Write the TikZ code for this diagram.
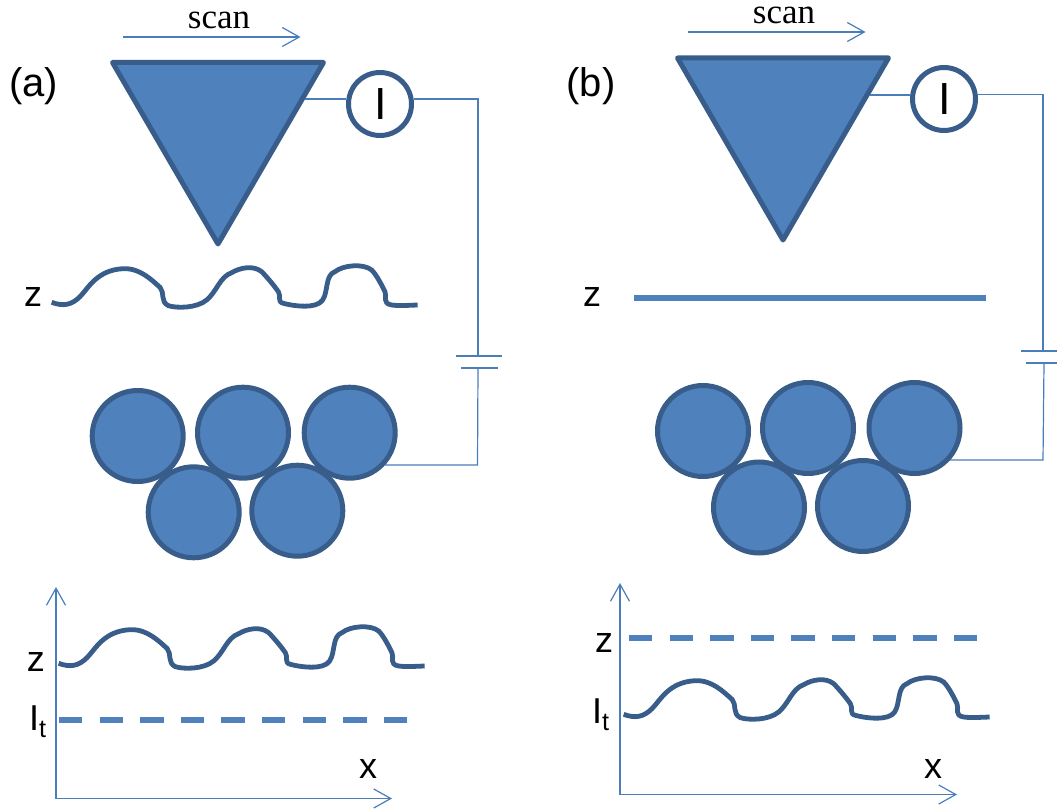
\documentclass[tikz,border=0pt]{standalone}
\usepackage{fontspec}
\setmainfont{Liberation Serif}
\newfontfamily\lab{Liberation Sans}
\usetikzlibrary{arrows.meta}
\definecolor{fillb}{RGB}{79,129,189}
\definecolor{edgeb}{RGB}{56,93,138}
\definecolor{lineb}{RGB}{74,126,187}
\tikzset{
  wire/.style={draw=lineb,line width=1.2pt},
  arrowline/.style={wire,-{Straight Barb[length=17pt,width=19pt,line width=1.2pt]}},
  tip/.style={fill=fillb,draw=edgeb,line width=5pt,line join=round},
  atom/.style={circle,fill=fillb,draw=edgeb,line width=5pt,minimum size=91pt,inner sep=0pt},
  meter/.style={circle,fill=white,draw=edgeb,line width=5pt,minimum size=63pt,inner sep=0pt,font=\lab\fontsize{45}{45}\selectfont},
  lbl/.style={inner sep=0pt,font=\lab\fontsize{36}{40}\selectfont,text=black},
  panel/.style={inner sep=0pt,font=\lab\fontsize{40}{44}\selectfont,text=black},
  scanlbl/.style={inner sep=0pt,font=\fontsize{35}{38}\selectfont,text=black},
  wave/.pic={\draw[edgeb,line width=4.8pt,line join=round,scale=0.33333]
    (155,907) .. controls (190,920) and (215,915) .. (240,890)
    .. controls (265,865) and (290,810) .. (370,806)
    .. controls (420,804) and (455,840) .. (480,862)
    .. controls (495,878) and (480,905) .. (505,917)
    .. controls (530,925) and (590,925) .. (620,900)
    .. controls (650,875) and (660,830) .. (695,818)
    .. controls (720,803) and (760,795) .. (785,815)
    .. controls (800,830) and (825,860) .. (835,875)
    .. controls (845,890) and (830,905) .. (850,910)
    .. controls (880,918) and (950,928) .. (968,900)
    .. controls (985,875) and (975,825) .. (1005,815)
    .. controls (1030,795) and (1090,790) .. (1115,810)
    .. controls (1130,825) and (1145,855) .. (1155,875)
    .. controls (1162,890) and (1145,910) .. (1175,915)
    .. controls (1195,918) and (1225,916) .. (1253,915);},
  flat/.style={draw=fillb,line width=5.5pt},
  dashflat/.style={draw=fillb,line width=6pt,dash pattern=on 23.3pt off 17.3pt}
}
\begin{document}
\begin{tikzpicture}[x=1pt,y=-1pt]
\useasboundingbox (0,0) rectangle (1057,810);
% panel a
\node[panel] (la) at (33.5,86) {(a)};
\node[scanlbl] (sa) at (219,20) {scan};
\coordinate (sa1) at (123,37); \coordinate (sa2) at (300.5,37);
\draw[arrowline] (sa1) -- (sa2);
\coordinate (ta) at (305,99);
\draw[tip] (112.5,62.5) -- (323.5,62.5) -- (218,244) -- cycle;
\node[meter] (ma) at (380,104) {\kern1.5pt I};
\coordinate (ca1) at (478,99); \coordinate (pa1) at (478,356);
\coordinate (pa2) at (478,368); \coordinate (ca2) at (477.5,465);
\coordinate (ea) at (385,465);
\draw[wire] (ta) -- (ma.west |- ta);
\draw[wire] (ma.east |- ca1) -- (ca1) -- (pa1);
\draw[wire] (456,356) -- (501.5,356);
\draw[wire] (461,368) -- (497.5,368);
\draw[wire] (pa2) -- (ca2) -- (ea);
\node[lbl] (za) at (33,297) {z};
\pic at (0,0) {wave};
\node[atom] (a1) at (137.7,436) {};
\node[atom] (a2) at (243,432.7) {};
\node[atom] (a3) at (349.7,432.7) {};
\node[atom] (a4) at (193.7,512.3) {};
\node[atom] (a5) at (297.3,510.7) {};
% graph a
\coordinate (oa) at (56,798.5); \coordinate (ya) at (56,587); \coordinate (xa) at (392,798.5);
\draw[arrowline] (oa) -- (ya);
\draw[arrowline] (oa) -- (xa);
\pic at (7,361) {wave};
\draw[dashflat] (59,720) -- (407,720);
\node[lbl] (gza) at (36,662) {z};
\node[lbl,anchor=base west] (gia) at (29,730) {I\textsubscript{t}};
\node[lbl] (gxa) at (368,769) {x};
% panel b
\node[panel] (lb) at (591,86) {(b)};
\node[scanlbl] (sb) at (784,15.5) {scan};
\coordinate (sb1) at (688,32); \coordinate (sb2) at (865.5,32);
\draw[arrowline] (sb1) -- (sb2);
\coordinate (tb) at (870,95);
\draw[tip] (677.5,58) -- (888.5,58) -- (783,240) -- cycle;
\node[meter] (mb) at (944,99) {\kern1.5pt I};
\coordinate (cb1) at (1043,94.5); \coordinate (pb1) at (1043,351);
\coordinate (pb2) at (1044,363); \coordinate (cb2) at (1043,460);
\coordinate (eb) at (950,460);
\draw[wire] (tb) -- (mb.west |- tb);
\draw[wire] (mb.east |- cb1) -- (cb1) -- (pb1);
\draw[wire] (1021,351) -- (1057,351);
\draw[wire] (1026,363) -- (1057,363);
\draw[wire] (pb2) -- (cb2) -- (eb);
\node[lbl] (zb) at (592,297) {z};
\draw[flat] (634,298) -- (986,298);
\node[atom] (b1) at (703,431) {};
\node[atom] (b2) at (808,428) {};
\node[atom] (b3) at (914.5,428) {};
\node[atom] (b4) at (759,507.5) {};
\node[atom] (b5) at (863,506) {};
% graph b
\coordinate (ob) at (620,794.5); \coordinate (yb) at (620,583); \coordinate (xb) at (957,794.5);
\draw[arrowline] (ob) -- (yb);
\draw[arrowline] (ob) -- (xb);
\pic at (572,412) {wave};
\draw[dashflat] (629,638) -- (977,638);
\node[lbl] (gzb) at (604,643) {z};
\node[lbl,anchor=base west] (gib) at (592,723) {I\textsubscript{t}};
\node[lbl] (gxb) at (933,769) {x};
\end{tikzpicture}
\end{document}
